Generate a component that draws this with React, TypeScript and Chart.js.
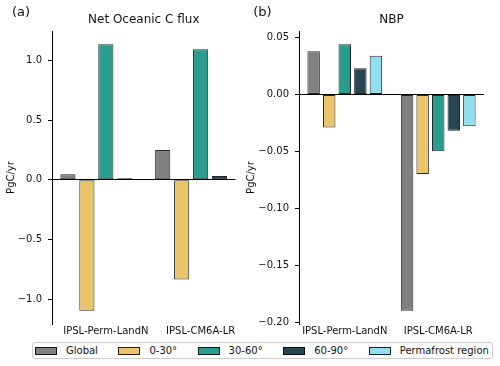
import React, { useEffect, useRef } from "react";
import { Chart, registerables } from "chart.js";

Chart.register(...registerables);

const FONT = '"DejaVu Sans", "Liberation Sans", sans-serif';
const TEXT = "#111111";

// ---- data ----
const categories = ["IPSL-Perm-LandN", "IPSL-CM6A-LR"];
const seriesNames = ["Global", "0-30°", "30-60°", "60-90°", "Permafrost region"];
const seriesColors = ["#808080", "#E9C46A", "#2A9D8F", "#264653", "#90E0EF"];

// Net Oceanic C flux (PgC/yr)
const oceanGlobal = [0.047, 0.25];
const ocean0to30 = [-1.094, -0.833];
const ocean30to60 = [1.133, 1.092];
const ocean60to90 = [0.014, 0.033];
const oceanPermafrost: (number | null)[] = [null, null];

// NBP (PgC/yr)
const nbpGlobal = [0.038, -0.19];
const nbp0to30 = [-0.029, -0.07];
const nbp30to60 = [0.044, -0.05];
const nbp60to90 = [0.023, -0.032];
const nbpPermafrost = [0.034, -0.028];

const oceanTicks = [-1.0, -0.5, 0.0, 0.5, 1.0];
const nbpTicks = [-0.2, -0.15, -0.1, -0.05, 0.0, 0.05];

function fmt(v: number, d: number) {
  return Number(v).toFixed(d).replace("-", "\u2212");
}

const panelLabelPlugin = {
  id: "panelLabel",
  afterDraw(chart: any, _args: any, opts: any) {
    const ctx = chart.ctx;
    ctx.save();
    ctx.font = `13px ${FONT}`;
    ctx.fillStyle = TEXT;
    ctx.textBaseline = "middle";
    ctx.textAlign = "left";
    ctx.fillText(opts.text, opts.x, opts.y);
    ctx.restore();
  },
};

type Spec = {
  left: number;
  width: number;
  title: string;
  panel: string;
  panelX: number;
  values: (number | null)[][];
  ticks: number[];
  decimals: number;
  yMin: number;
  yMax: number;
  xMin: number;
  xMax: number;
  catPct: number;
  yWidth: number;
  padRight: number;
  yTitlePad: number;
};

function buildConfig(spec: Spec): any {
  const datasets = seriesNames.map((name, i) => ({
    label: name,
    data: spec.values[i].map((v, j) => ({ x: j, y: v })),
    backgroundColor: seriesColors[i],
    borderColor: "rgba(0,0,0,0.85)",
    borderWidth: 1,
    borderSkipped: false,
    categoryPercentage: spec.catPct,
    barPercentage: 0.8,
  }));
  return {
    type: "bar",
    data: { datasets },
    options: {
      animation: false,
      responsive: false,
      layout: {
        autoPadding: false,
        padding: { left: 0, right: spec.padRight, top: 8, bottom: 0 },
      },
      plugins: {
        legend: { display: false },
        tooltip: { enabled: false },
        title: {
          display: true,
          fullSize: false,
          text: spec.title,
          color: TEXT,
          font: { size: 12, family: FONT, weight: "normal" },
          padding: { top: 5, bottom: 3.6 },
        },
        panelLabel: { text: spec.panel, x: spec.panelX, y: 12.5 },
      },
      scales: {
        x: {
          type: "linear",
          min: spec.xMin,
          max: spec.xMax,
          offset: false,
          grid: { display: false, drawTicks: false, offset: false },
          border: { display: false },
          afterBuildTicks: (s: any) => {
            s.ticks = categories.map((_, i) => ({ value: i }));
          },
          ticks: {
            callback: (v: any) => categories[v] ?? "",
            color: TEXT,
            font: { size: 10, family: FONT },
            padding: 1,
            maxRotation: 0,
            autoSkip: false,
          },
          afterFit: (s: any) => {
            s.height = 16;
          },
        },
        y: {
          type: "linear",
          min: spec.yMin,
          max: spec.yMax,
          afterBuildTicks: (s: any) => {
            s.ticks = spec.ticks.map((v) => ({ value: v }));
          },
          ticks: {
            callback: (v: any) => fmt(v, spec.decimals),
            color: TEXT,
            font: { size: 10, family: FONT },
            padding: 6,
          },
          grid: {
            drawOnChartArea: true,
            color: (c: any) =>
              c.tick && Math.abs(c.tick.value) < 1e-12 ? "#000000" : "rgba(0,0,0,0)",
            tickColor: "#000000",
            tickLength: 4,
            lineWidth: 1,
          },
          border: { display: true, color: "#000000", width: 1 },
          title: {
            display: true,
            text: "PgC/yr",
            color: TEXT,
            font: { size: 10, family: FONT },
            padding: { top: spec.yTitlePad, bottom: 0 },
          },
          afterFit: (s: any) => {
            s.width = spec.yWidth;
          },
        },
      },
    },
    plugins: [panelLabelPlugin],
  };
}

const leftSpec: Spec = {
  left: 0,
  width: 250,
  title: "Net Oceanic C flux",
  panel: "(a)",
  panelX: 12,
  values: [oceanGlobal, ocean0to30, ocean30to60, ocean60to90, oceanPermafrost],
  ticks: oceanTicks,
  decimals: 1,
  yMin: -1.205,
  yMax: 1.244,
  xMin: -0.568,
  xMax: 1.368,
  catPct: 1.0,
  yWidth: 52,
  padRight: 14.5,
  yTitlePad: 5,
};

const rightSpec: Spec = {
  left: 244,
  width: 256,
  title: "NBP",
  panel: "(b)",
  panelX: 9.3,
  values: [nbpGlobal, nbp0to30, nbp30to60, nbp60to90, nbpPermafrost],
  ticks: nbpTicks,
  decimals: 2,
  yMin: -0.2017,
  yMax: 0.0557,
  xMin: -0.49,
  xMax: 1.49,
  catPct: 5 / 6,
  yWidth: 55,
  padRight: 16,
  yTitlePad: 1.5,
};

function Panel({ spec }: { spec: Spec }) {
  const ref = useRef<HTMLCanvasElement>(null);
  useEffect(() => {
    const chart = new Chart(ref.current as HTMLCanvasElement, buildConfig(spec));
    return () => chart.destroy();
  }, [spec]);
  return (
    <canvas
      ref={ref}
      width={spec.width}
      height={340}
      style={{
        position: "absolute",
        left: spec.left,
        top: 0,
        width: spec.width,
        height: 340,
      }}
    />
  );
}

function Legend() {
  return (
    <div
      style={{
        position: "absolute",
        left: 32,
        top: 342,
        width: 461,
        height: 17,
        boxSizing: "border-box",
        border: "1px solid #cccccc",
        borderRadius: 3,
        background: "#ffffff",
        display: "flex",
        alignItems: "center",
        paddingLeft: 2,
        fontFamily: FONT,
        fontSize: 10,
        color: TEXT,
        whiteSpace: "nowrap",
      }}
    >
      {seriesNames.map((name, i) => (
        <div
          key={name}
          style={{ display: "flex", alignItems: "center", marginRight: 20.5 }}
        >
          <span
            style={{
              display: "inline-block",
              width: 22,
              height: 8,
              boxSizing: "border-box",
              background: seriesColors[i],
              border: "1px solid rgba(0,0,0,0.85)",
              marginRight: 9,
            }}
          />
          <span style={{ lineHeight: "12px" }}>{name}</span>
        </div>
      ))}
    </div>
  );
}

export default function App() {
  return (
    <div
      style={{
        position: "absolute",
        left: 0,
        top: 0,
        width: 500,
        height: 366,
        background: "#ffffff",
        overflow: "hidden",
      }}
    >
      <Panel spec={leftSpec} />
      <Panel spec={rightSpec} />
      <Legend />
    </div>
  );
}
